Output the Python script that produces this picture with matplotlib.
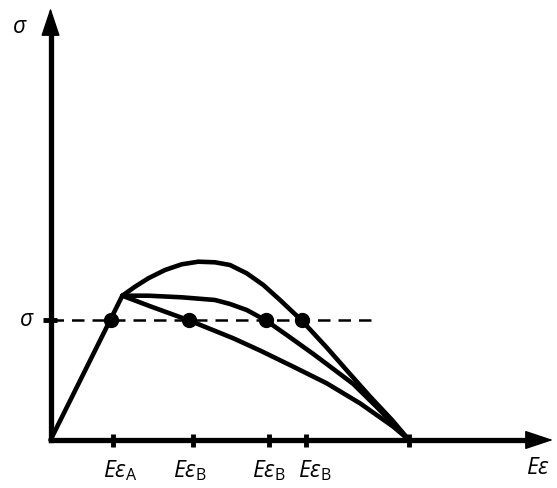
import numpy as np
import matplotlib
matplotlib.use("Agg")
import matplotlib.pyplot as plt

# -----------------------------
# Data (strain scaled so the end point is 1, stress scaled so sigma level is 1)
# -----------------------------
elastic_x = [0.0, 0.2003]
elastic_y = [0.0, 1.2075]

upper_x = [0.2003, 0.2357, 0.2728, 0.3194, 0.3660, 0.4123, 0.4589, 0.5007,
           0.5473, 0.5936, 0.6402, 0.7007, 0.7704, 0.8354, 0.8912, 0.9526, 1.0]
upper_y = [1.2075, 1.2828, 1.3531, 1.4226, 1.4703, 1.4921, 1.4870, 1.4644,
           1.3950, 1.2971, 1.1715, 1.0, 0.7741, 0.5523, 0.3640, 0.1674, 0.0]

middle_x = [0.2003, 0.2728, 0.3660, 0.4589, 0.5007, 0.5473, 0.6011, 0.6589,
            0.7331, 0.7704, 0.8446, 0.9099, 1.0]
middle_y = [1.2075, 1.2075, 1.1941, 1.1715, 1.1381, 1.0879, 1.0, 0.8787,
            0.7197, 0.6360, 0.4686, 0.2762, 0.0]

lower_x = [0.2003, 0.2775, 0.3872, 0.5099, 0.5844, 0.6773, 0.7704, 0.8633,
           0.9562, 1.0]
lower_y = [1.2075, 1.1197, 1.0, 0.8510, 0.7490, 0.6134, 0.4745, 0.3071,
           0.1113, 0.0]

sigma_level = 1.0
dot_x = [0.169, 0.387, 0.601, 0.701]
tick_x = [0.175, 0.397, 0.610, 0.713, 1.0]
tick_labels = [r"$E\varepsilon_{\mathrm{A}}$", r"$E\varepsilon_{\mathrm{B}}$",
               r"$E\varepsilon_{\mathrm{B}}$", r"$E\varepsilon_{\mathrm{B}}$"]
label_x = [0.194, 0.389, 0.609, 0.738]

# -----------------------------
# Fonts
# -----------------------------
plt.rcParams["font.family"] = ["Open Sans", "DejaVu Sans"]
plt.rcParams["mathtext.fontset"] = "custom"
plt.rcParams["mathtext.rm"] = "Open Sans"
plt.rcParams["mathtext.it"] = "Open Sans:italic"

fig = plt.figure(figsize=(5.57, 4.88), dpi=100)
ax = fig.add_axes([0, 0, 1, 1])
ax.set_xlim(-0.1409, 1.4128)
ax.set_ylim(-0.4017, 3.682)
ax.axis("off")

lw_axis = 3.8
lw_curve = 3.3

# axes lines + arrow heads
ax.plot([0.0, 0.0], [0.0, 3.43], color="black", lw=lw_axis, solid_capstyle="projecting")
ax.plot([0.0, 1.34], [0.0, 0.0], color="black", lw=lw_axis, solid_capstyle="projecting")
head_kw = dict(arrowstyle="-|>,head_length=0.9,head_width=0.3", lw=1.0,
               color="black", shrinkA=0, shrinkB=0, mutation_scale=20)
ax.annotate("", xy=(0.0, 3.615), xytext=(0.0, 3.2), arrowprops=head_kw)
ax.annotate("", xy=(1.4017, 0.0), xytext=(1.2, 0.0), arrowprops=head_kw)

# ticks
ax.vlines(tick_x, -0.058, 0.05, colors="black", lw=3.5)
ax.hlines(sigma_level, -0.021, 0.018, colors="black", lw=3.5)

# dashed sigma line
ax.plot([0.0, 0.914], [sigma_level, sigma_level], color="black", lw=1.8,
        dashes=(5, 3.2))

# curves
for xs, ys in [(elastic_x, elastic_y), (upper_x, upper_y),
               (middle_x, middle_y), (lower_x, lower_y)]:
    ax.plot(xs, ys, color="black", lw=lw_curve, solid_joinstyle="round",
            solid_capstyle="round")

ax.plot(dot_x, [sigma_level] * len(dot_x), "o", color="black", ms=10)

# labels
fs = 16.5
for lx, lab in zip(label_x, tick_labels):
    ax.text(lx, -0.310, lab, ha="center", va="baseline", fontsize=fs)
ax.text(1.36, -0.288, r"$E\varepsilon$", ha="center", va="baseline", fontsize=fs)
ax.text(-0.066, sigma_level, r"$\sigma$", ha="center", va="center", fontsize=fs)
ax.text(-0.085, 3.455, r"$\sigma$", ha="center", va="center", fontsize=fs)

fig.savefig("out.png", dpi=100)
